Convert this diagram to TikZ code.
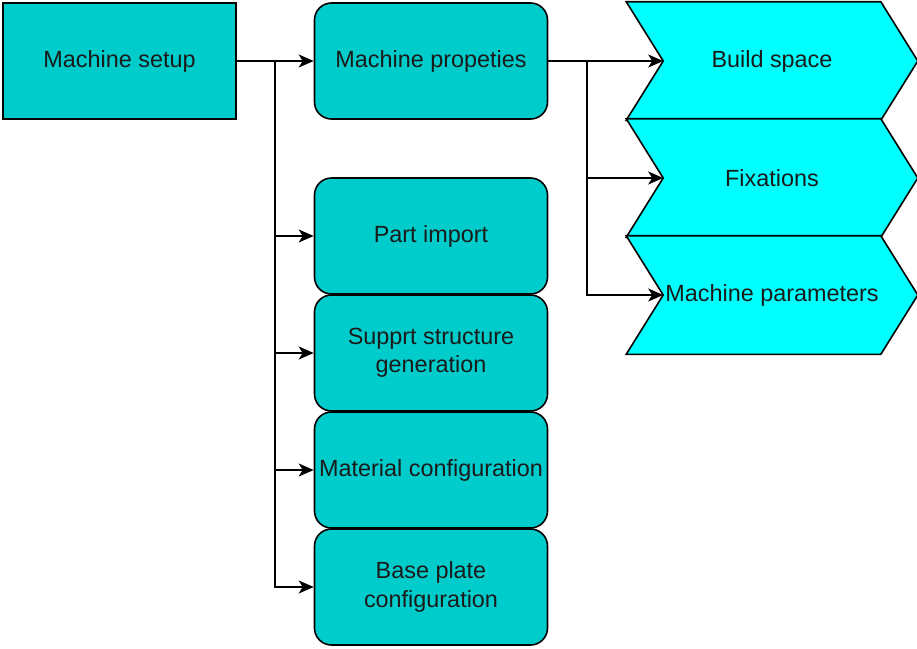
\documentclass[tikz,border=0pt]{standalone}
\usepackage{fontspec}
\setmainfont{Liberation Sans}
\usetikzlibrary{arrows.meta,backgrounds}
\definecolor{boxteal}{HTML}{00CCCC}
\definecolor{chevcyan}{HTML}{00FFFF}
\definecolor{txt}{HTML}{1A1A1A}
\tikzset{
  base/.style={draw=black, line width=1.6pt, text=txt, inner sep=0pt,
    minimum width=233pt, minimum height=116pt, align=center,
    font=\fontsize{23.4}{28.5}\selectfont},
  plainbox/.style={base, fill=boxteal},
  roundbox/.style={base, fill=boxteal, rounded corners=17pt},
  chevtext/.style={base, draw=none, minimum width=290pt, minimum height=117pt},
  chevshape/.style={draw=black, line width=1.6pt, fill=chevcyan, line join=miter},
  link/.style={draw=black, line width=1.6pt,
    -{Stealth[length=15pt,width=13pt,inset=4pt]}}
}
\begin{document}
\begin{tikzpicture}[x=1pt,y=-1pt]
\useasboundingbox (0,0) rectangle (917,648);

% main boxes
\node[plainbox] (ms) at (119.5,61) {\raisebox{-2pt}{Machine setup}};
\node[roundbox] (mp) at (431,61) {\raisebox{-2pt}{Machine propeties}};
\node[roundbox] (pi) at (431,236) {\raisebox{-2pt}{Part import}};
\node[roundbox] (ss) at (431,353) {Supprt structure\\generation};
\node[roundbox] (mc) at (431,470) {\raisebox{-2pt}{Material configuration}};
\node[roundbox] (bp) at (431,587) {Base plate\\configuration};

% chevron steps
\node[chevtext] (bs) at (772,61) {\raisebox{-2pt}{Build space}};
\node[chevtext] (fx) at (772,178) {\raisebox{-2pt}{Fixations}};
\node[chevtext] (mpar) at (772,295) {\raisebox{-2pt}{Machine parameters}};
\begin{pgfonlayer}{background}
  \foreach \n in {bs,fx,mpar}{
    \draw[chevshape] (\n.north west) -- ([xshift=-37pt]\n.north east)
      -- (\n.east) -- ([xshift=-37pt]\n.south east) -- (\n.south west)
      -- ([xshift=37pt]\n.west) -- cycle;
  }
\end{pgfonlayer}
\coordinate (bsin) at ([xshift=37pt]bs.west);
\coordinate (fxin) at ([xshift=37pt]fx.west);
\coordinate (mparin) at ([xshift=37pt]mpar.west);

% branch points
\coordinate (j1) at (275,61);
\coordinate (j2) at (587,61);

% connectors from machine setup
\draw[link] (ms.east) -- (mp.west);
\draw[link] (j1) |- (pi.west);
\draw[link] (j1) |- (ss.west);
\draw[link] (j1) |- (mc.west);
\draw[link] (j1) |- (bp.west);

% connectors from machine properties
\draw[link] (mp.east) -- (bsin);
\draw[link] (j2) |- (fxin);
\draw[link] (j2) |- (mparin);
\end{tikzpicture}
\end{document}
